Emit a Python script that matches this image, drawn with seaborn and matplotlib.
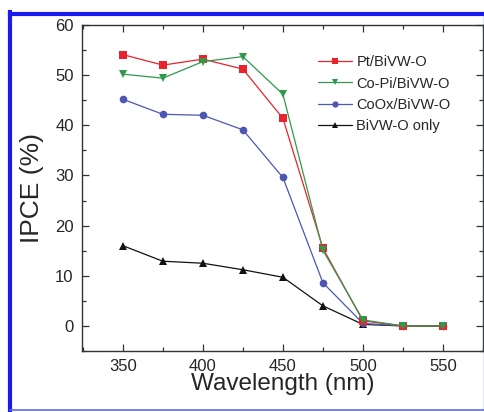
import matplotlib
matplotlib.use("Agg")
import matplotlib.pyplot as plt
import matplotlib.lines as mlines
from matplotlib.ticker import MultipleLocator
import seaborn as sns
import pandas as pd

wavelength = [350, 375, 400, 425, 450, 475, 500, 525, 550]
pt_bivwo = [54.1, 52.0, 53.2, 51.2, 41.4, 15.5, 1.0, 0.0, 0.0]
copi_bivwo = [50.2, 49.4, 52.7, 53.7, 46.2, 15.1, 1.2, 0.0, 0.0]
coox_bivwo = [45.2, 42.2, 42.0, 39.1, 29.6, 8.6, 0.5, 0.0, 0.0]
bivwo_only = [16.0, 12.9, 12.5, 11.2, 9.7, 4.0, 0.3, 0.0, 0.0]
series_names = ["Pt/BiVW-O", "Co-Pi/BiVW-O", "CoOx/BiVW-O", "BiVW-O only"]
colors = ["#e8232c", "#2f9a4c", "#4b57b3", "#111111"]
markers = ["s", "v", "o", "^"]

rows = []
for name, vals in zip(series_names, [pt_bivwo, copi_bivwo, coox_bivwo, bivwo_only]):
    for w, v in zip(wavelength, vals):
        rows.append({"Wavelength": w, "IPCE": v, "Sample": name})
df = pd.DataFrame(rows)

sns.set_style("ticks")
plt.rcParams["font.family"] = ["Liberation Sans", "DejaVu Sans"]

fig = plt.figure(figsize=(4.85, 4.12), dpi=100)
ax = fig.add_axes([82 / 485, 61 / 412, 401 / 485, 326 / 412])

draw_order = ["BiVW-O only", "CoOx/BiVW-O", "Pt/BiVW-O", "Co-Pi/BiVW-O"]
sns.lineplot(data=df, x="Wavelength", y="IPCE", hue="Sample", style="Sample",
             hue_order=draw_order, style_order=draw_order,
             palette=dict(zip(series_names, colors)),
             markers=dict(zip(series_names, markers)),
             dashes=False, markersize=5.5, linewidth=0.9,
             markeredgewidth=0, ax=ax, legend=False)

ax.set_xlim(324.5, 575)
ax.set_ylim(-5, 60)
ax.xaxis.set_major_locator(MultipleLocator(50))
ax.xaxis.set_minor_locator(MultipleLocator(25))
ax.yaxis.set_major_locator(MultipleLocator(10))
ax.yaxis.set_minor_locator(MultipleLocator(5))
ax.tick_params(which="both", direction="in", top=True, right=True,
               labelsize=12, color="#333333", width=0.9)
ax.tick_params(which="major", length=5, pad=6)
ax.tick_params(which="minor", length=3)
for s in ax.spines.values():
    s.set_color("#333333")
    s.set_linewidth(1.0)
ax.set_xlabel("Wavelength (nm)", fontsize=17.5, labelpad=-1)
ax.set_ylabel("IPCE (%)", fontsize=19, labelpad=8)

handles = [mlines.Line2D([], [], color=c, marker=m, markersize=4.5, linewidth=0.9,
                         markeredgewidth=0) for c, m in zip(colors, markers)]
ax.legend(handles, series_names, loc="upper left", bbox_to_anchor=(0.575, 0.925),
          frameon=False, fontsize=10.5, handlelength=2.3, handletextpad=0.3,
          labelspacing=0.5, borderaxespad=0)

# blue frame around the figure
blue = "#1a1aee"
fig.add_artist(mlines.Line2D([10 / 485, 10 / 485], [2 / 412, 400 / 412], transform=fig.transFigure,
                             color=blue, linewidth=3.0, solid_capstyle="projecting"))
fig.add_artist(mlines.Line2D([10 / 485, 484 / 485], [398 / 412, 398 / 412], transform=fig.transFigure,
                             color=blue, linewidth=3.0, solid_capstyle="projecting"))
fig.add_artist(mlines.Line2D([484 / 485, 484 / 485], [2 / 412, 398 / 412], transform=fig.transFigure,
                             color="#5a6cf0", linewidth=1.0))
fig.add_artist(mlines.Line2D([10 / 485, 484 / 485], [2 / 412, 2 / 412], transform=fig.transFigure,
                             color="#5a6cf0", linewidth=1.2))

fig.savefig("out.png", dpi=100)
